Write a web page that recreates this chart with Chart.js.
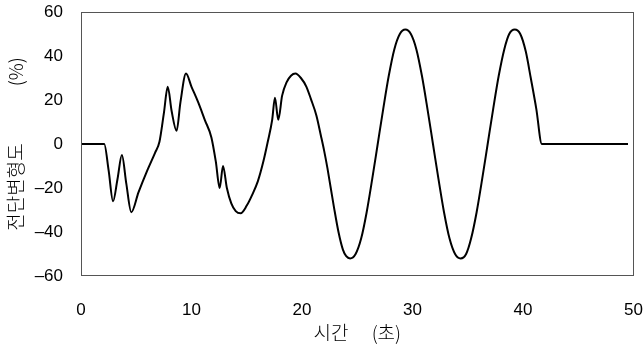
<!DOCTYPE html>
<html><head><meta charset="utf-8">
<script src="https://cdn.jsdelivr.net/npm/chart.js@4/dist/chart.umd.min.js"></script>
<style>html,body{margin:0;padding:0;background:#fff;}#wrap{width:643px;height:344px;}</style>
</head><body><div id="wrap"><canvas id="c" width="643" height="344"></canvas></div>
<script>
const timeSec = [0,1,2.1,2.5,2.9,3.3,3.7,4.1,4.55,5.2,6.0,6.7,7.1,7.5,7.85,8.2,8.65,9.0,9.5,10.0,10.6,11.2,11.8,12.2,12.55,12.85,13.2,13.6,14.0,14.45,15.0,15.5,16.0,16.5,16.9,17.3,17.55,17.85,18.2,18.6,19.0,19.4,19.9,20.4,20.8,21.3,21.7,22.0,22.3,22.6,22.9,23.3,23.7,24.0,24.35,24.85,25.35,25.85,26.35,26.85,27.35,27.85,28.35,28.85,29.35,29.85,30.35,30.85,31.35,31.85,32.35,32.85,33.35,33.85,34.35,34.85,35.3,35.8,36.3,36.8,37.3,37.8,38.3,38.75,39.25,39.75,40.25,40.7,41.2,41.7,42.0,49.5];
const shearStrain = [0,0,0,-12,-26,-16,-5,-18,-31,-22,-12,-4,1,14,26,15,6,19,32,26,19,11,3,-8,-20,-10,-20,-27,-30.5,-31.5,-28,-23,-17,-8,1,11,21,11,22,28,31,32,30,26,20.5,13,4,-3,-11,-20,-29,-40,-48,-51,-52,-50,-43,-31,-16,0,16,31,43,50,52,50,43,31,16,0,-16,-31,-43,-50,-52,-50,-43,-31,-16,0,16,31,43,50,52,50,42,30,16,0,0,0];
const xTicks = [0,10,20,30,40,50];
const yTicks = [-60,-40,-20,0,20,40,60];
const xTitle = '시간\u3000 (초)';
const yTitle = '전단변형도\u3000\u3000\u3000(%)';

const pts = timeSec.map((t,i)=>({x:t,y:shearStrain[i]}));
const frame = {id:'frame',afterDatasetsDraw(ch){const a=ch.chartArea,c=ch.ctx;c.save();c.strokeStyle='#555';c.lineWidth=1;c.strokeRect(Math.round(a.left)+0.5,Math.round(a.top)+0.5,Math.round(a.right-a.left)-1,Math.round(a.bottom-a.top)-1);c.restore();}};
const numFont={family:'"Liberation Sans", Arial, sans-serif',size:17};
const korFont={family:'"Noto Sans CJK KR", sans-serif',size:19,weight:300};
const hiddenGrid = len => ({display:true,drawOnChartArea:false,drawTicks:true,tickLength:len,color:'rgba(0,0,0,0)',tickColor:'rgba(0,0,0,0)'});
new Chart(document.getElementById('c'),{
  type:'line',
  data:{datasets:[{data:pts,borderColor:'#000',borderWidth:2,pointRadius:0,cubicInterpolationMode:'monotone',fill:false}]},
  options:{
    responsive:false,animation:false,
    layout:{padding:{top:12,right:9,left:0,bottom:0}},
    plugins:{legend:{display:false},tooltip:{enabled:false}},
    scales:{
      x:{type:'linear',min:0,max:50,
        afterBuildTicks(s){s.ticks=xTicks.map(v=>({value:v}));},
        afterFit(s){s.height=68;},
        grid:hiddenGrid(24),border:{display:false},
        ticks:{padding:0,color:'#000',font:numFont,maxRotation:0,callback:v=>String(v)},
        title:{display:true,text:xTitle,color:'#000',font:korFont,padding:{top:0,bottom:0}}},
      y:{type:'linear',min:-60,max:60,
        afterBuildTicks(s){s.ticks=yTicks.map(v=>({value:v}));},
        afterFit(s){s.width=81;},
        grid:hiddenGrid(17),border:{display:false},
        ticks:{padding:1,color:'#000',font:numFont,callback:v=>String(v).replace('-','\u2013')},
        title:{display:true,text:yTitle,color:'#000',font:korFont,padding:{top:4,bottom:0}}}
    }
  },
  plugins:[frame]
});
</script></body></html>
